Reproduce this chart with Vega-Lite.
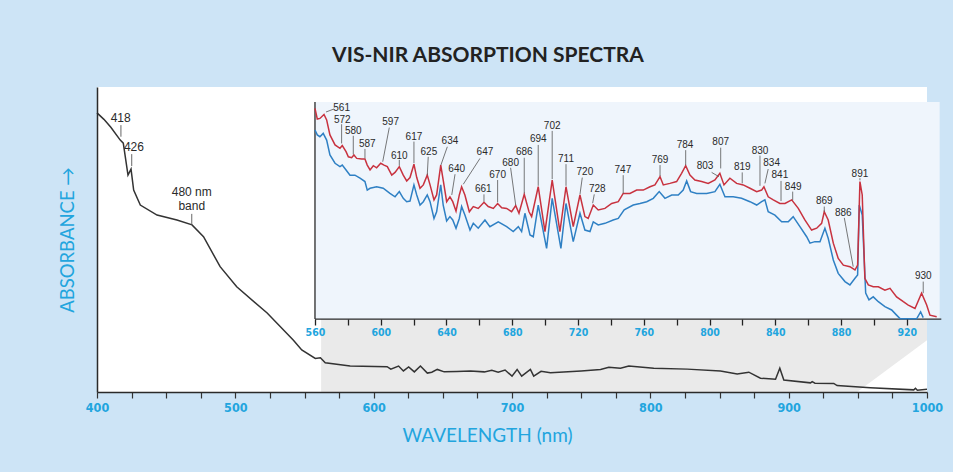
{
  "$schema": "https://vega.github.io/schema/vega-lite/v6.json",
  "width": 830,
  "height": 305,
  "autosize": {"type": "none"},
  "padding": {"left": 97, "top": 87, "right": 26, "bottom": 80},
  "background": "#cde4f6",
  "config": {"view": {"fill": "white", "stroke": null}},
  "title": {"text": "VIS-NIR ABSORPTION SPECTRA", "font": "Lato", "fontSize": 21, "fontWeight": "bold", "color": "#222222", "anchor": "middle", "dx": -24, "offset": 21},
  "datasets": {
    "main": [
      {"nm": 400, "v": 91.5}, {"nm": 405, "v": 89.4}, {"nm": 410, "v": 86.8}, {"nm": 416.8, "v": 82.6}, {"nm": 419, "v": 81.6},
      {"nm": 422.4, "v": 71.1}, {"nm": 424.6, "v": 73.1}, {"nm": 426.5, "v": 66.2}, {"nm": 431.3, "v": 61.3}, {"nm": 443.4, "v": 58},
      {"nm": 457.8, "v": 56.4}, {"nm": 468.7, "v": 54.8}, {"nm": 477, "v": 50.9}, {"nm": 489, "v": 41.1}, {"nm": 501, "v": 34.5},
      {"nm": 523, "v": 25.9}, {"nm": 542, "v": 17}, {"nm": 548, "v": 13.8}, {"nm": 557.8, "v": 11}, {"nm": 561.5, "v": 11.2},
      {"nm": 565, "v": 9.6}, {"nm": 583, "v": 8.5}, {"nm": 609.7, "v": 8.3}, {"nm": 612.4, "v": 7.5}, {"nm": 618, "v": 8.5},
      {"nm": 621.5, "v": 6.9}, {"nm": 625.3, "v": 8.2}, {"nm": 629.4, "v": 6.6}, {"nm": 633.8, "v": 8.5}, {"nm": 638.8, "v": 6.2},
      {"nm": 642, "v": 6.5}, {"nm": 646, "v": 7.4}, {"nm": 651, "v": 6.6}, {"nm": 660, "v": 6.7}, {"nm": 670, "v": 6.9},
      {"nm": 680, "v": 6.6}, {"nm": 685.4, "v": 7.1}, {"nm": 690, "v": 6.5}, {"nm": 695, "v": 7.2}, {"nm": 700, "v": 5.2},
      {"nm": 703.7, "v": 7.4}, {"nm": 707, "v": 5.2}, {"nm": 713.3, "v": 7.4}, {"nm": 715.7, "v": 5.2}, {"nm": 721, "v": 6.8},
      {"nm": 727.8, "v": 6.3}, {"nm": 750, "v": 6.9}, {"nm": 764, "v": 7.4}, {"nm": 770, "v": 8.1}, {"nm": 778.4, "v": 7.8},
      {"nm": 784.4, "v": 8.5}, {"nm": 802.5, "v": 7.8}, {"nm": 826.6, "v": 7.5}, {"nm": 850.7, "v": 6.9}, {"nm": 862.8, "v": 5.9},
      {"nm": 871.2, "v": 6.5}, {"nm": 879.6, "v": 4.5}, {"nm": 890.5, "v": 4.2}, {"nm": 893.6, "v": 7.8}, {"nm": 896.5, "v": 3.9},
      {"nm": 915.8, "v": 3.0}, {"nm": 917, "v": 3.4}, {"nm": 919, "v": 2.9}, {"nm": 932.6, "v": 2.8}, {"nm": 935, "v": 2.1},
      {"nm": 959, "v": 1.4}, {"nm": 990.4, "v": 0.7}, {"nm": 991.7, "v": 1.2}, {"nm": 993, "v": 0.6}, {"nm": 1000, "v": 0.9}
    ],
    "zoomArea": [
      {"nm": 562, "top": 23.9, "bot": 0}, {"nm": 949.5, "top": 23.9, "bot": 0}, {"nm": 1000, "top": 23.9, "bot": 17}
    ],
    "mainLab": [
      {"lab": "418", "tx": 417.1, "ty": 89.7, "x1": 417.3, "y1": 87.5, "x2": 417.3, "y2": 83.7},
      {"lab": "426", "tx": 426.7, "ty": 80.2, "x1": 425.1, "y1": 78.0, "x2": 425.1, "y2": 74.1},
      {"lab": "480 nm", "tx": 468.5, "ty": 65.6, "x1": 468.5, "y1": 58.4, "x2": 468.5, "y2": 54.8},
      {"lab": "band", "tx": 468.5, "ty": 61.1}
    ],
    "panel": [{"a": 560, "b": 940, "lo": 23.9, "hi": 95.1}],
    "insetRules": [
      {"x1": 560, "x2": 941, "y1": 23.9, "y2": 23.9},
      {"x1": 560, "x2": 560, "y1": 23.9, "y2": 95.1}
    ],
    "inset": [
      {"s": "red", "nm": 560, "v": 93.0}, {"s": "red", "nm": 561.4, "v": 89.5}, {"s": "red", "nm": 563, "v": 89.7}, {"s": "red", "nm": 565.5, "v": 91.0}, {"s": "red", "nm": 567.1, "v": 89.2},
      {"s": "red", "nm": 569.1, "v": 84.3}, {"s": "red", "nm": 572.2, "v": 81.0}, {"s": "red", "nm": 575.2, "v": 79.9}, {"s": "red", "nm": 576.6, "v": 80.8}, {"s": "red", "nm": 578.9, "v": 78.8},
      {"s": "red", "nm": 580.3, "v": 77.1}, {"s": "red", "nm": 582.3, "v": 76.8}, {"s": "red", "nm": 583.7, "v": 77.7}, {"s": "red", "nm": 585.4, "v": 76.6}, {"s": "red", "nm": 588.4, "v": 76.4},
      {"s": "red", "nm": 590.4, "v": 76.4}, {"s": "red", "nm": 591.8, "v": 74.4}, {"s": "red", "nm": 593.5, "v": 72.8}, {"s": "red", "nm": 595.5, "v": 74.2}, {"s": "red", "nm": 597.5, "v": 73.5},
      {"s": "red", "nm": 600, "v": 75.0}, {"s": "red", "nm": 602, "v": 74.4}, {"s": "red", "nm": 604, "v": 73.9}, {"s": "red", "nm": 606.7, "v": 71.1}, {"s": "red", "nm": 608.7, "v": 72.0},
      {"s": "red", "nm": 611.3, "v": 73.9}, {"s": "red", "nm": 613.7, "v": 71.1}, {"s": "red", "nm": 615.8, "v": 69.2}, {"s": "red", "nm": 617.8, "v": 70.3}, {"s": "red", "nm": 620.2, "v": 74.7},
      {"s": "red", "nm": 621.9, "v": 70.3}, {"s": "red", "nm": 623.9, "v": 66.8}, {"s": "red", "nm": 625.9, "v": 67.9}, {"s": "red", "nm": 628.3, "v": 71.1}, {"s": "red", "nm": 630, "v": 67.9},
      {"s": "red", "nm": 632.4, "v": 63.0}, {"s": "red", "nm": 634, "v": 64.6}, {"s": "red", "nm": 636.5, "v": 74.4}, {"s": "red", "nm": 638, "v": 69.5}, {"s": "red", "nm": 640.1, "v": 62.4},
      {"s": "red", "nm": 642.1, "v": 64.0}, {"s": "red", "nm": 643.8, "v": 62.4}, {"s": "red", "nm": 645.8, "v": 59.3}, {"s": "red", "nm": 647.8, "v": 64.6}, {"s": "red", "nm": 649.2, "v": 67.3},
      {"s": "red", "nm": 651.2, "v": 64.6}, {"s": "red", "nm": 653.9, "v": 59.1}, {"s": "red", "nm": 656.3, "v": 60.8}, {"s": "red", "nm": 659.3, "v": 60.2}, {"s": "red", "nm": 662.8, "v": 62.2},
      {"s": "red", "nm": 665.4, "v": 60.8}, {"s": "red", "nm": 668.5, "v": 60.2}, {"s": "red", "nm": 671.1, "v": 61.8}, {"s": "red", "nm": 673.6, "v": 60.4}, {"s": "red", "nm": 676.6, "v": 60.2},
      {"s": "red", "nm": 679.6, "v": 59.1}, {"s": "red", "nm": 682.1, "v": 61.1}, {"s": "red", "nm": 684.1, "v": 58.6}, {"s": "red", "nm": 687.3, "v": 64.8}, {"s": "red", "nm": 690.2, "v": 59.1},
      {"s": "red", "nm": 691.8, "v": 57.5}, {"s": "red", "nm": 695.8, "v": 67.3}, {"s": "red", "nm": 699.9, "v": 52.6}, {"s": "red", "nm": 704.3, "v": 69.5}, {"s": "red", "nm": 709, "v": 52.6},
      {"s": "red", "nm": 712.7, "v": 67.3}, {"s": "red", "nm": 717.1, "v": 54.2}, {"s": "red", "nm": 721.2, "v": 64.6}, {"s": "red", "nm": 724.2, "v": 57.5}, {"s": "red", "nm": 726.2, "v": 56.9},
      {"s": "red", "nm": 729.3, "v": 61.3}, {"s": "red", "nm": 732.3, "v": 59.7}, {"s": "red", "nm": 736.4, "v": 60.2}, {"s": "red", "nm": 740.5, "v": 61.8}, {"s": "red", "nm": 744.5, "v": 62.4},
      {"s": "red", "nm": 747.5, "v": 65.1}, {"s": "red", "nm": 751.6, "v": 65.1}, {"s": "red", "nm": 755.7, "v": 66.2}, {"s": "red", "nm": 759.7, "v": 66.2}, {"s": "red", "nm": 763.8, "v": 67.3},
      {"s": "red", "nm": 766.8, "v": 67.9}, {"s": "red", "nm": 769.9, "v": 70.6}, {"s": "red", "nm": 771.9, "v": 67.9}, {"s": "red", "nm": 775.9, "v": 68.4}, {"s": "red", "nm": 780, "v": 69.0},
      {"s": "red", "nm": 783, "v": 71.7}, {"s": "red", "nm": 785.5, "v": 74.2}, {"s": "red", "nm": 788.1, "v": 71.1}, {"s": "red", "nm": 791.1, "v": 69.5}, {"s": "red", "nm": 795.2, "v": 69.0},
      {"s": "red", "nm": 799.2, "v": 68.4}, {"s": "red", "nm": 803.3, "v": 69.5}, {"s": "red", "nm": 806.3, "v": 71.7}, {"s": "red", "nm": 808.8, "v": 67.9}, {"s": "red", "nm": 812.4, "v": 70.1},
      {"s": "red", "nm": 816.5, "v": 68.4}, {"s": "red", "nm": 820.5, "v": 67.9}, {"s": "red", "nm": 824.6, "v": 66.8}, {"s": "red", "nm": 828.7, "v": 65.7}, {"s": "red", "nm": 831.7, "v": 66.2},
      {"s": "red", "nm": 833.1, "v": 67.3}, {"s": "red", "nm": 835.7, "v": 64.0}, {"s": "red", "nm": 838.8, "v": 63.0}, {"s": "red", "nm": 842.8, "v": 61.8}, {"s": "red", "nm": 845.9, "v": 61.8},
      {"s": "red", "nm": 850, "v": 63.0}, {"s": "red", "nm": 854, "v": 60.2}, {"s": "red", "nm": 858, "v": 56.4}, {"s": "red", "nm": 862.1, "v": 53.1}, {"s": "red", "nm": 865.2, "v": 53.7},
      {"s": "red", "nm": 868.2, "v": 55.3}, {"s": "red", "nm": 869.8, "v": 59.1}, {"s": "red", "nm": 872.2, "v": 56.4}, {"s": "red", "nm": 875.3, "v": 48.8}, {"s": "red", "nm": 878.3, "v": 43.8},
      {"s": "red", "nm": 881.4, "v": 41.6}, {"s": "red", "nm": 885.4, "v": 41.1}, {"s": "red", "nm": 888.5, "v": 40.0}, {"s": "red", "nm": 890.1, "v": 41.6}, {"s": "red", "nm": 891.5, "v": 69.0},
      {"s": "red", "nm": 892.9, "v": 64.6}, {"s": "red", "nm": 894.5, "v": 37.3}, {"s": "red", "nm": 896.6, "v": 35.1}, {"s": "red", "nm": 899.6, "v": 34.5}, {"s": "red", "nm": 902.7, "v": 34.5},
      {"s": "red", "nm": 906.7, "v": 33.4}, {"s": "red", "nm": 909.8, "v": 34.0}, {"s": "red", "nm": 913.8, "v": 31.2}, {"s": "red", "nm": 917.9, "v": 29.6}, {"s": "red", "nm": 920.9, "v": 28.5},
      {"s": "red", "nm": 925, "v": 27.4}, {"s": "red", "nm": 929, "v": 32.4}, {"s": "red", "nm": 932.1, "v": 28.5}, {"s": "red", "nm": 934.1, "v": 25.2}, {"s": "red", "nm": 938.2, "v": 24.7},
      {"s": "blue", "nm": 560, "v": 85.9}, {"s": "blue", "nm": 561.4, "v": 84.3}, {"s": "blue", "nm": 563, "v": 83.7}, {"s": "blue", "nm": 565, "v": 84.8}, {"s": "blue", "nm": 567.1, "v": 82.6},
      {"s": "blue", "nm": 569.1, "v": 77.7}, {"s": "blue", "nm": 572.2, "v": 75.0}, {"s": "blue", "nm": 575.2, "v": 73.9}, {"s": "blue", "nm": 576.6, "v": 74.4}, {"s": "blue", "nm": 578.9, "v": 72.8},
      {"s": "blue", "nm": 581.3, "v": 71.1}, {"s": "blue", "nm": 584.3, "v": 71.1}, {"s": "blue", "nm": 587.4, "v": 70.1}, {"s": "blue", "nm": 590.4, "v": 69.0}, {"s": "blue", "nm": 591.8, "v": 66.2},
      {"s": "blue", "nm": 593.5, "v": 66.8}, {"s": "blue", "nm": 597.5, "v": 67.3}, {"s": "blue", "nm": 601.5, "v": 66.8}, {"s": "blue", "nm": 605.6, "v": 65.1}, {"s": "blue", "nm": 608.7, "v": 64.0},
      {"s": "blue", "nm": 611.3, "v": 65.7}, {"s": "blue", "nm": 613.7, "v": 63.5}, {"s": "blue", "nm": 615.8, "v": 62.4}, {"s": "blue", "nm": 617.8, "v": 62.6}, {"s": "blue", "nm": 620.2, "v": 67.9},
      {"s": "blue", "nm": 621.9, "v": 64.6}, {"s": "blue", "nm": 623.9, "v": 61.3}, {"s": "blue", "nm": 625.9, "v": 62.4}, {"s": "blue", "nm": 628.3, "v": 64.6}, {"s": "blue", "nm": 630, "v": 62.4},
      {"s": "blue", "nm": 632.4, "v": 56.9}, {"s": "blue", "nm": 634, "v": 59.1}, {"s": "blue", "nm": 636.5, "v": 67.9}, {"s": "blue", "nm": 638, "v": 61.3}, {"s": "blue", "nm": 640.1, "v": 56.1},
      {"s": "blue", "nm": 642.1, "v": 57.5}, {"s": "blue", "nm": 643.8, "v": 56.4}, {"s": "blue", "nm": 645.8, "v": 53.7}, {"s": "blue", "nm": 647.8, "v": 56.9}, {"s": "blue", "nm": 649.2, "v": 60.8},
      {"s": "blue", "nm": 651.2, "v": 58.0}, {"s": "blue", "nm": 654.3, "v": 53.1}, {"s": "blue", "nm": 656.3, "v": 55.3}, {"s": "blue", "nm": 659.3, "v": 53.7}, {"s": "blue", "nm": 663.4, "v": 56.4},
      {"s": "blue", "nm": 666.4, "v": 54.2}, {"s": "blue", "nm": 671.5, "v": 55.8}, {"s": "blue", "nm": 676.6, "v": 54.2}, {"s": "blue", "nm": 680.6, "v": 52.6}, {"s": "blue", "nm": 683.7, "v": 54.2},
      {"s": "blue", "nm": 685.7, "v": 52.6}, {"s": "blue", "nm": 687.7, "v": 58.6}, {"s": "blue", "nm": 690.8, "v": 51.5}, {"s": "blue", "nm": 692.8, "v": 50.9}, {"s": "blue", "nm": 695.8, "v": 61.3},
      {"s": "blue", "nm": 700.9, "v": 47.1}, {"s": "blue", "nm": 704.3, "v": 63.5}, {"s": "blue", "nm": 709.6, "v": 47.1}, {"s": "blue", "nm": 712.7, "v": 61.8}, {"s": "blue", "nm": 717.1, "v": 49.3},
      {"s": "blue", "nm": 721.2, "v": 58.6}, {"s": "blue", "nm": 724.2, "v": 53.1}, {"s": "blue", "nm": 727.3, "v": 52.6}, {"s": "blue", "nm": 729.3, "v": 55.8}, {"s": "blue", "nm": 732.3, "v": 54.8},
      {"s": "blue", "nm": 736.4, "v": 55.3}, {"s": "blue", "nm": 741.4, "v": 56.4}, {"s": "blue", "nm": 744.5, "v": 56.9}, {"s": "blue", "nm": 748.1, "v": 59.7}, {"s": "blue", "nm": 753.6, "v": 61.3},
      {"s": "blue", "nm": 757.7, "v": 61.8}, {"s": "blue", "nm": 761.8, "v": 62.4}, {"s": "blue", "nm": 765.8, "v": 63.5}, {"s": "blue", "nm": 769.4, "v": 65.7}, {"s": "blue", "nm": 772.9, "v": 63.5},
      {"s": "blue", "nm": 777, "v": 64.6}, {"s": "blue", "nm": 781, "v": 64.6}, {"s": "blue", "nm": 784, "v": 66.2}, {"s": "blue", "nm": 786.1, "v": 69.2}, {"s": "blue", "nm": 788.5, "v": 65.7},
      {"s": "blue", "nm": 792.2, "v": 65.1}, {"s": "blue", "nm": 798.3, "v": 65.1}, {"s": "blue", "nm": 803.3, "v": 65.7}, {"s": "blue", "nm": 806.3, "v": 68.1}, {"s": "blue", "nm": 809.4, "v": 64.0},
      {"s": "blue", "nm": 814.4, "v": 64.0}, {"s": "blue", "nm": 819.5, "v": 63.5}, {"s": "blue", "nm": 824.6, "v": 62.4}, {"s": "blue", "nm": 828.7, "v": 61.3}, {"s": "blue", "nm": 831.7, "v": 62.4},
      {"s": "blue", "nm": 833.7, "v": 63.0}, {"s": "blue", "nm": 835.7, "v": 59.1}, {"s": "blue", "nm": 839.8, "v": 58.0}, {"s": "blue", "nm": 843.9, "v": 55.8}, {"s": "blue", "nm": 847.9, "v": 55.8},
      {"s": "blue", "nm": 850.9, "v": 57.5}, {"s": "blue", "nm": 855, "v": 54.2}, {"s": "blue", "nm": 859.1, "v": 50.9}, {"s": "blue", "nm": 861.1, "v": 48.8}, {"s": "blue", "nm": 864.1, "v": 49.3},
      {"s": "blue", "nm": 867.2, "v": 49.3}, {"s": "blue", "nm": 870.2, "v": 53.7}, {"s": "blue", "nm": 872.2, "v": 50.4}, {"s": "blue", "nm": 875.3, "v": 43.3}, {"s": "blue", "nm": 878.3, "v": 38.9},
      {"s": "blue", "nm": 882.4, "v": 36.2}, {"s": "blue", "nm": 885.4, "v": 35.1}, {"s": "blue", "nm": 888.5, "v": 37.3}, {"s": "blue", "nm": 890.1, "v": 38.4}, {"s": "blue", "nm": 891.1, "v": 61.3},
      {"s": "blue", "nm": 892.9, "v": 58.0}, {"s": "blue", "nm": 895, "v": 32.4}, {"s": "blue", "nm": 897, "v": 30.2}, {"s": "blue", "nm": 899.6, "v": 31.2}, {"s": "blue", "nm": 902.7, "v": 29.6},
      {"s": "blue", "nm": 906.7, "v": 28.0}, {"s": "blue", "nm": 910.8, "v": 26.9}, {"s": "blue", "nm": 913.8, "v": 25.2}, {"s": "blue", "nm": 916, "v": 24.0}, {"s": "blue", "nm": 926, "v": 24.0},
      {"s": "blue", "nm": 928.4, "v": 26.3}, {"s": "blue", "nm": 930, "v": 24.4}
    ],
    "insetLab": [
      {"lab": "561", "tx": 576.2, "ty": 93.0, "x1": 566.7, "y1": 91.8, "x2": 571.6, "y2": 92.8},
      {"lab": "572", "tx": 576.6, "ty": 89.2, "x1": 576.2, "y1": 87.8, "x2": 576.2, "y2": 81.5},
      {"lab": "580", "tx": 583.3, "ty": 85.6, "x1": 583.3, "y1": 84.0, "x2": 583.3, "y2": 77.9},
      {"lab": "587", "tx": 591.8, "ty": 81.2, "x1": 590.4, "y1": 79.7, "x2": 590.4, "y2": 76.6},
      {"lab": "597", "tx": 606.0, "ty": 88.4, "x1": 605.2, "y1": 86.7, "x2": 601.2, "y2": 75.5},
      {"lab": "610", "tx": 611.3, "ty": 77.4, "x1": 611.3, "y1": 76.1, "x2": 611.3, "y2": 74.2},
      {"lab": "617", "tx": 620.2, "ty": 83.7, "x1": 620.2, "y1": 82.1, "x2": 620.2, "y2": 75.0},
      {"lab": "625", "tx": 629.3, "ty": 78.8, "x1": 628.9, "y1": 77.1, "x2": 628.3, "y2": 71.1},
      {"lab": "634", "tx": 642.1, "ty": 82.3, "x1": 640.5, "y1": 80.4, "x2": 636.6, "y2": 74.4},
      {"lab": "640", "tx": 646.2, "ty": 73.1, "x1": 645.2, "y1": 71.4, "x2": 643.2, "y2": 64.6},
      {"lab": "647", "tx": 663.4, "ty": 78.6, "x1": 660.4, "y1": 76.6, "x2": 650.2, "y2": 68.1},
      {"lab": "661", "tx": 662.4, "ty": 66.5, "x1": 662.8, "y1": 64.8, "x2": 662.8, "y2": 62.4},
      {"lab": "670", "tx": 671.1, "ty": 71.1, "x1": 671.1, "y1": 69.5, "x2": 671.1, "y2": 62.2},
      {"lab": "680", "tx": 679.0, "ty": 75.2, "x1": 679.0, "y1": 73.5, "x2": 682.1, "y2": 61.3},
      {"lab": "686", "tx": 687.3, "ty": 78.6, "x1": 687.3, "y1": 76.8, "x2": 687.3, "y2": 65.1},
      {"lab": "694", "tx": 695.8, "ty": 82.9, "x1": 695.8, "y1": 81.0, "x2": 695.8, "y2": 67.6},
      {"lab": "702", "tx": 704.3, "ty": 87.3, "x1": 704.3, "y1": 85.6, "x2": 704.3, "y2": 69.8},
      {"lab": "711", "tx": 712.7, "ty": 76.4, "x1": 712.7, "y1": 74.7, "x2": 712.7, "y2": 67.6},
      {"lab": "720", "tx": 724.2, "ty": 72.0, "x1": 722.6, "y1": 70.3, "x2": 721.2, "y2": 64.8},
      {"lab": "728", "tx": 731.7, "ty": 66.5, "x1": 729.9, "y1": 64.8, "x2": 728.9, "y2": 61.9},
      {"lab": "747", "tx": 747.3, "ty": 72.8, "x1": 747.5, "y1": 71.1, "x2": 747.5, "y2": 65.1},
      {"lab": "769", "tx": 769.9, "ty": 76.1, "x1": 769.9, "y1": 74.4, "x2": 769.9, "y2": 70.8},
      {"lab": "784", "tx": 785.1, "ty": 81.0, "x1": 785.5, "y1": 79.3, "x2": 785.5, "y2": 74.4},
      {"lab": "803", "tx": 797.3, "ty": 74.1, "x1": 801.3, "y1": 72.0, "x2": 805.7, "y2": 70.6},
      {"lab": "807", "tx": 806.8, "ty": 81.9, "x1": 806.8, "y1": 80.1, "x2": 806.8, "y2": 73.3},
      {"lab": "819", "tx": 819.9, "ty": 73.9, "x1": 819.9, "y1": 72.0, "x2": 819.9, "y2": 68.4},
      {"lab": "830", "tx": 830.7, "ty": 79.0, "x1": 830.7, "y1": 77.5, "x2": 830.7, "y2": 67.6},
      {"lab": "834", "tx": 837.8, "ty": 75.2, "x1": 835.7, "y1": 73.1, "x2": 833.7, "y2": 68.4},
      {"lab": "841", "tx": 842.8, "ty": 71.1, "x1": 843.5, "y1": 69.2, "x2": 843.5, "y2": 62.6},
      {"lab": "849", "tx": 850.9, "ty": 67.3, "x1": 850.6, "y1": 65.7, "x2": 850.6, "y2": 62.9},
      {"lab": "869", "tx": 869.8, "ty": 62.6, "x1": 869.8, "y1": 60.8, "x2": 869.8, "y2": 59.1},
      {"lab": "886", "tx": 881.4, "ty": 58.8, "x1": 882.0, "y1": 57.1, "x2": 887.4, "y2": 41.1},
      {"lab": "891", "tx": 891.5, "ty": 71.5, "x1": 891.5, "y1": 70.1, "x2": 891.5, "y2": 69.4},
      {"lab": "930", "tx": 930.0, "ty": 38.0, "x1": 930.0, "y1": 36.2, "x2": 930.0, "y2": 32.4}
    ]
  },
  "layer": [
    {
      "data": {"name": "zoomArea"},
      "mark": {"type": "area", "color": "#eaeaea"},
      "encoding": {
        "x": {"field": "nm", "type": "quantitative", "scale": {"domain": [400, 1000], "nice": false, "zero": false}, "axis": null},
        "y": {"field": "top", "type": "quantitative", "scale": {"domain": [0, 100], "nice": false, "zero": false}, "axis": null},
        "y2": {"field": "bot"}
      }
    },
    {
      "data": {"name": "main"},
      "mark": {"type": "line", "color": "#333333", "strokeWidth": 1.5},
      "encoding": {
        "x": {"field": "nm", "type": "quantitative", "scale": {"domain": [400, 1000], "nice": false, "zero": false},
          "axis": {"orient": "bottom", "values": [400, 425, 450, 475, 500, 525, 550, 575, 600, 625, 650, 675, 700, 725, 750, 775, 800, 825, 850, 875, 900, 925, 950, 975, 1000],
            "format": "d", "labelExpr": "datum.value % 100 === 0 ? datum.label : ''", "labelFlush": false, "labelOverlap": false, "grid": false, "zindex": 1,
            "domainColor": "#2a2a2a", "domainWidth": 1.5, "tickColor": "#333333", "tickSize": 6, "tickWidth": 1.2,
            "labelColor": "#22a5de", "labelFont": "Liberation Sans Narrow, DejaVu Sans Condensed, sans-serif", "labelFontSize": 12.5, "labelFontWeight": "bold", "labelPadding": 3,
            "title": "WAVELENGTH (nm)", "titleColor": "#22a5de", "titleFont": "Lato", "titleFontSize": 19, "titleFontWeight": "normal", "titlePadding": 13, "titleX": 390}},
        "y": {"field": "v", "type": "quantitative", "scale": {"domain": [0, 100], "nice": false, "zero": false},
          "axis": {"orient": "left", "title": "ABSORBANCE \u2192", "ticks": false, "labels": false, "grid": false, "zindex": 1, "domainColor": "#2a2a2a", "domainWidth": 1.5,
            "titleColor": "#22a5de", "titleFont": "Lato", "titleFontSize": 18.5, "titleFontWeight": "normal", "titlePadding": 20}}
      }
    },
    {
      "data": {"name": "mainLab"},
      "mark": {"type": "rule", "color": "#555555", "strokeWidth": 0.9},
      "encoding": {
        "x": {"field": "x1", "type": "quantitative", "scale": {"domain": [400, 1000], "nice": false, "zero": false}, "axis": null},
        "x2": {"field": "x2"},
        "y": {"field": "y1", "type": "quantitative", "scale": {"domain": [0, 100], "nice": false, "zero": false}, "axis": null},
        "y2": {"field": "y2"}
      }
    },
    {
      "data": {"name": "mainLab"},
      "mark": {"type": "text", "color": "#2a2a2a", "font": "Liberation Sans", "fontSize": 12, "align": "center", "baseline": "middle"},
      "encoding": {
        "x": {"field": "tx", "type": "quantitative", "scale": {"domain": [400, 1000], "nice": false, "zero": false}, "axis": null},
        "y": {"field": "ty", "type": "quantitative", "scale": {"domain": [0, 100], "nice": false, "zero": false}, "axis": null},
        "text": {"field": "lab"}
      }
    },
    {
      "data": {"name": "panel"},
      "mark": {"type": "rect", "color": "#eff5fc"},
      "encoding": {
        "x": {"field": "a", "type": "quantitative", "scale": {"domain": [427.4, 932.3], "nice": false, "zero": false}, "axis": null},
        "x2": {"field": "b"},
        "y": {"field": "lo", "type": "quantitative", "scale": {"domain": [0, 100], "nice": false, "zero": false}, "axis": null},
        "y2": {"field": "hi"}
      }
    },
    {
      "data": {"name": "insetRules"},
      "mark": {"type": "rule", "color": "#2a2a2a", "strokeWidth": 1.3},
      "encoding": {
        "x": {"field": "x1", "type": "quantitative", "scale": {"domain": [427.4, 932.3], "nice": false, "zero": false},
          "axis": {"orient": "bottom", "offset": -73, "values": [560, 580, 600, 620, 640, 660, 680, 700, 720, 740, 760, 780, 800, 820, 840, 860, 880, 900, 920, 940],
            "format": "d", "labelExpr": "datum.value % 40 === 0 ? datum.label : ''", "labelFlush": false, "labelOverlap": false, "domain": false, "grid": false, "zindex": 2,
            "tickColor": "#222222", "tickSize": 6, "tickWidth": 1.3, "labelColor": "#22a5de", "labelFont": "Liberation Sans Narrow, DejaVu Sans Condensed, sans-serif",
            "labelFontSize": 10.5, "labelFontWeight": "bold", "labelPadding": 2, "title": null}},
        "x2": {"field": "x2"},
        "y": {"field": "y1", "type": "quantitative", "scale": {"domain": [0, 100], "nice": false, "zero": false}, "axis": null},
        "y2": {"field": "y2"}
      }
    },
    {
      "data": {"name": "inset"},
      "transform": [{"filter": "datum.s === 'blue'"}],
      "mark": {"type": "line", "color": "#2f80c4", "strokeWidth": 1.5},
      "encoding": {
        "x": {"field": "nm", "type": "quantitative", "scale": {"domain": [427.4, 932.3], "nice": false, "zero": false}, "axis": null},
        "y": {"field": "v", "type": "quantitative", "scale": {"domain": [0, 100], "nice": false, "zero": false}, "axis": null}
      }
    },
    {
      "data": {"name": "inset"},
      "transform": [{"filter": "datum.s === 'red'"}],
      "mark": {"type": "line", "color": "#c8323f", "strokeWidth": 1.5},
      "encoding": {
        "x": {"field": "nm", "type": "quantitative", "scale": {"domain": [427.4, 932.3], "nice": false, "zero": false}, "axis": null},
        "y": {"field": "v", "type": "quantitative", "scale": {"domain": [0, 100], "nice": false, "zero": false}, "axis": null}
      }
    },
    {
      "data": {"name": "insetLab"},
      "mark": {"type": "rule", "color": "#555555", "strokeWidth": 0.8},
      "encoding": {
        "x": {"field": "x1", "type": "quantitative", "scale": {"domain": [427.4, 932.3], "nice": false, "zero": false}, "axis": null},
        "x2": {"field": "x2"},
        "y": {"field": "y1", "type": "quantitative", "scale": {"domain": [0, 100], "nice": false, "zero": false}, "axis": null},
        "y2": {"field": "y2"}
      }
    },
    {
      "data": {"name": "insetLab"},
      "mark": {"type": "text", "color": "#2a2a2a", "font": "Liberation Sans", "fontSize": 10, "align": "center", "baseline": "middle"},
      "encoding": {
        "x": {"field": "tx", "type": "quantitative", "scale": {"domain": [427.4, 932.3], "nice": false, "zero": false}, "axis": null},
        "y": {"field": "ty", "type": "quantitative", "scale": {"domain": [0, 100], "nice": false, "zero": false}, "axis": null},
        "text": {"field": "lab"}
      }
    }
  ],
  "resolve": {"scale": {"x": "independent", "y": "independent"}}
}
